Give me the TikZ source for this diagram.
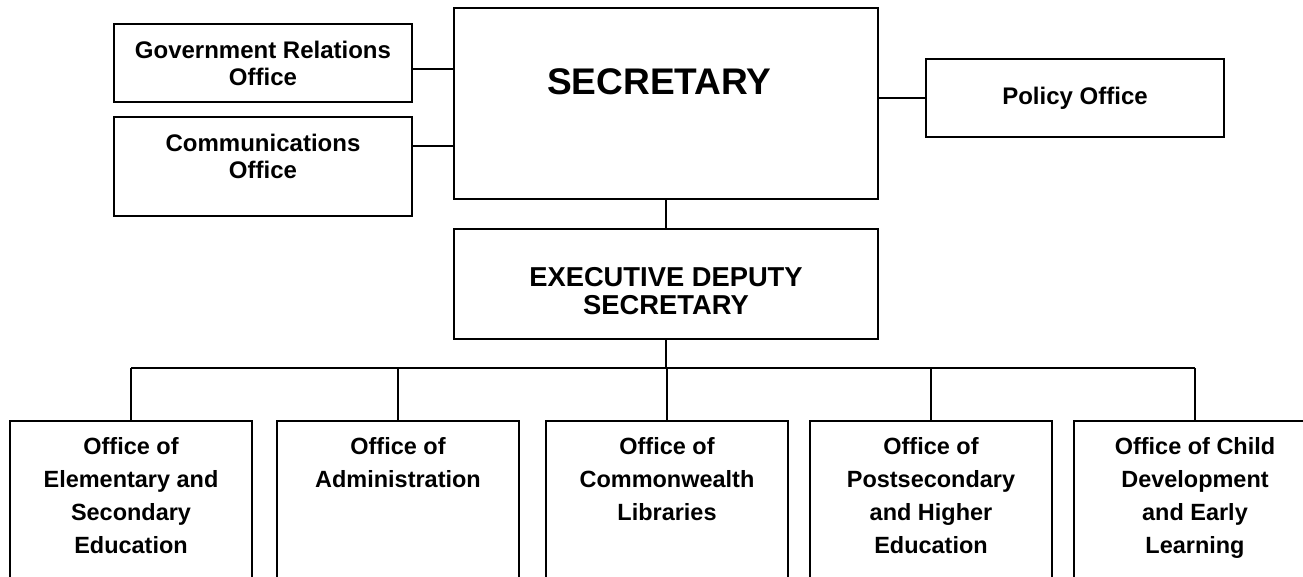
\documentclass[tikz,border=0pt]{standalone}
\usepackage{fontspec}
\setmainfont{Liberation Sans}
\usepackage{tikz}

\begin{document}
\begin{tikzpicture}[x=0.75pt, y=-0.75pt,
    box/.style={draw, line width=1.3pt, inner sep=0pt},
    toptext/.style={font=\bfseries\fontsize{18}{20.25}\selectfont, align=center, inner sep=0pt},
    lowtext/.style={font=\bfseries\fontsize{17.6}{24.75}\selectfont, align=center, inner sep=0pt},
    link/.style={line width=1.3pt}]
    %\draw[step=100,gray,very thin] (0,0) grid (1303,577);
    \useasboundingbox (0,0) rectangle (1303,577);
    \clip (0,0) rectangle (1303,577);

    % staff offices on the left and right
    \node[box, minimum width=223.5pt, minimum height=58.5pt,
        label={[toptext, anchor=north, yshift=-13.5pt]north:{Government Relations\\Office}}] (gro) at (263,63) {};
    \node[box, minimum width=223.5pt, minimum height=74.25pt,
        label={[toptext, anchor=north, yshift=-13.5pt]north:{Communications\\Office}}] (com) at (263,166.5) {};
    \node[box, minimum width=223.5pt, minimum height=58.5pt, toptext] (pol) at (1075,98) {Policy Office};

    % secretary and deputy
    \node[box, minimum width=318pt, minimum height=143.25pt,
        label={[font=\bfseries\fontsize{27.8}{32}\selectfont, inner sep=0pt, xshift=-5pt, yshift=16pt]center:{SECRETARY}}] (sec) at (666,103.5) {};
    \node[box, minimum width=318pt, minimum height=82.5pt,
        label={[font=\bfseries\fontsize{20.5}{21}\selectfont, align=center, inner sep=0pt, yshift=-5pt]center:{EXECUTIVE DEPUTY\\SECRETARY}}] (eds) at (666,284) {};

    % line offices
    \node[box, minimum width=181.5pt, minimum height=150pt,
        label={[lowtext, anchor=north, yshift=-13pt]north:{Office of\\Elementary and\\Secondary\\Education}}] (off1) at (131,521) {};
    \node[box, minimum width=181.5pt, minimum height=150pt,
        label={[lowtext, anchor=north, yshift=-13pt]north:{Office of\\Administration}}] (off2) at (398,521) {};
    \node[box, minimum width=181.5pt, minimum height=150pt,
        label={[lowtext, anchor=north, yshift=-13pt]north:{Office of\\Commonwealth\\Libraries}}] (off3) at (667,521) {};
    \node[box, minimum width=181.5pt, minimum height=150pt,
        label={[lowtext, anchor=north, yshift=-13pt]north:{Office of\\Postsecondary\\and Higher\\Education}}] (off4) at (931,521) {};
    \node[box, minimum width=181.5pt, minimum height=150pt,
        label={[lowtext, anchor=north, yshift=-13pt]north:{Office of Child\\Development\\and Early\\Learning}}] (off5) at (1195,521) {};

    % connectors
    \draw[link] (gro.east |- 0,69) -- (sec.west |- 0,69);
    \draw[link] (com.east |- 0,146) -- (sec.west |- 0,146);
    \draw[link] (pol.west) -- (pol.west -| sec.east);
    \draw[link] (sec.south) -- (eds.north);

    \coordinate (bus) at (666,368);
    \draw[link] (eds.south) -- (bus);
    \draw[link] (bus -| off1.north) -- (bus -| off5.north);
    \foreach \o in {off1,off2,off3,off4,off5}
        \draw[link] (bus -| \o.north) -- (\o.north);

\end{tikzpicture}
\end{document}
